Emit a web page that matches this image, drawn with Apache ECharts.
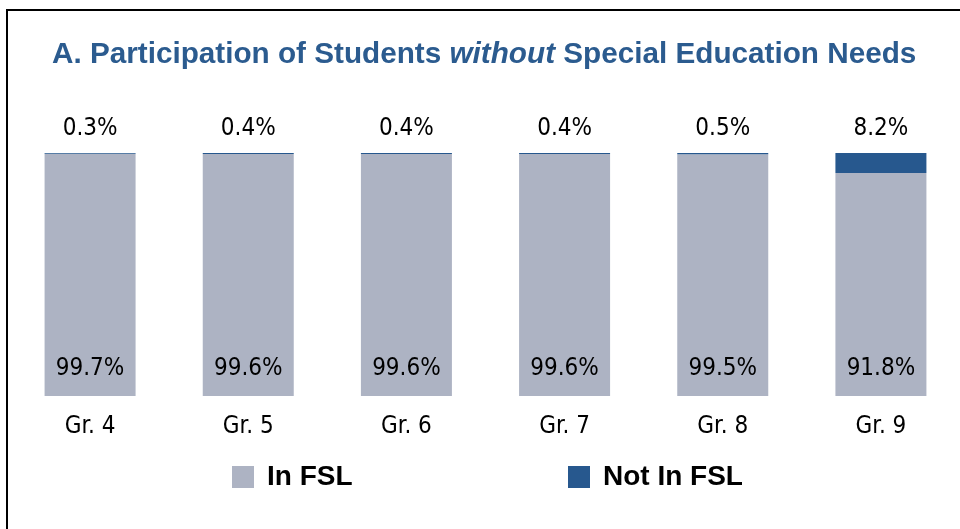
<!DOCTYPE html>
<html>
<head>
<meta charset="utf-8">
<script src="https://cdn.jsdelivr.net/npm/echarts@6/dist/echarts.min.js"></script>
<style>
  html, body { margin: 0; padding: 0; background: #fff; }
  #chart { width: 960px; height: 529px; }
</style>
</head>
<body>
<div id="chart"></div>
<script>
// Participación FSL, alumnos sin necesidades especiales
const grados = ['Gr. 4', 'Gr. 5', 'Gr. 6', 'Gr. 7', 'Gr. 8', 'Gr. 9'];
const enFSL = [99.7, 99.6, 99.6, 99.6, 99.5, 91.8];
const fueraFSL = [0.3, 0.4, 0.4, 0.4, 0.5, 8.2];

const COLOR_EN = '#adb3c3';
const COLOR_FUERA = '#27588e';
const FUENTE = '"Liberation Sans Narrow", "DejaVu Sans Condensed", sans-serif';

const chart = echarts.init(document.getElementById('chart'));

const option = {
    animation: false,
    title: {
        text: '{b|A. Participation of Students }{i|without}{b| Special Education Needs}',
        left: 47,
        top: 35,
        textStyle: {
            rich: {
                b: { fontFamily: 'Liberation Sans', fontWeight: 'bold', fontSize: 29.7, color: '#2b5b8f' },
                i: { fontFamily: 'Liberation Sans', fontWeight: 'bold', fontStyle: 'italic', fontSize: 29.7, color: '#2b5b8f' }
            }
        }
    },
    legend: [
        {
            data: ['In FSL'], left: 227, top: 458,
            itemWidth: 22, itemHeight: 22, icon: 'rect',
            textStyle: { fontFamily: 'Liberation Sans', fontWeight: 'bold', fontSize: 28, color: '#000', padding: [0, 0, 0, 8] }
        },
        {
            data: ['Not In FSL'], left: 563, top: 458,
            itemWidth: 22, itemHeight: 22, icon: 'rect',
            textStyle: { fontFamily: 'Liberation Sans', fontWeight: 'bold', fontSize: 28, color: '#000', padding: [0, 0, 0, 8] }
        }
    ],
    grid: { left: 11, width: 956, top: 153, height: 243 },
    xAxis: {
        type: 'category',
        data: grados,
        axisLine: { show: false },
        axisTick: { show: false },
        axisLabel: { fontFamily: FUENTE, fontSize: 24, color: '#000', margin: 19 }
    },
    yAxis: {
        type: 'value', min: 0, max: 100,
        show: false
    },
    series: [
        {
            name: 'In FSL', type: 'bar', stack: 'total', barWidth: 91,
            data: enFSL,
            itemStyle: { color: COLOR_EN },
            label: {
                show: true, position: 'insideBottom', distance: 15,
                formatter: p => p.value.toFixed(1) + '%',
                fontFamily: FUENTE, fontSize: 24, color: '#000'
            }
        },
        {
            name: 'Not In FSL', type: 'bar', stack: 'total', barWidth: 91,
            data: fueraFSL,
            itemStyle: { color: COLOR_FUERA },
            label: {
                show: true, position: 'top', distance: 12,
                formatter: p => p.value.toFixed(1) + '%',
                fontFamily: FUENTE, fontSize: 24, color: '#000'
            }
        }
    ],
    graphic: [
        // marco: línea superior e izquierda
        { type: 'line', shape: { x1: 6, y1: 10, x2: 960, y2: 10 }, style: { stroke: '#000', lineWidth: 2 } },
        { type: 'line', shape: { x1: 7, y1: 9, x2: 7, y2: 529 }, style: { stroke: '#000', lineWidth: 2 } }
    ]
};

chart.setOption(option);
</script>
</body>
</html>
